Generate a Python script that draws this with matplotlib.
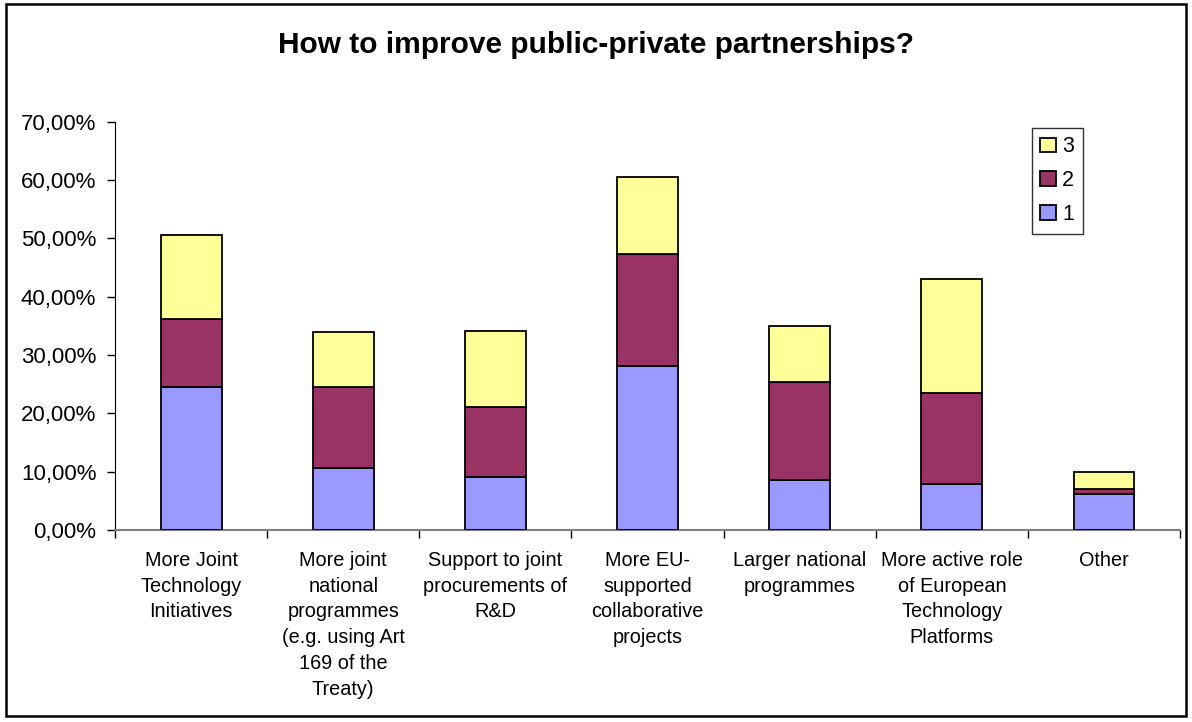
import matplotlib
matplotlib.use("Agg")
import matplotlib.pyplot as plt
from matplotlib.patches import Rectangle, Patch
from matplotlib.ticker import FuncFormatter, MultipleLocator
import numpy as np

plt.rcParams['font.family'] = ['Liberation Sans', 'DejaVu Sans']

# answer categories (x axis)
categories = [
    "More Joint\nTechnology\nInitiatives",
    "More joint\nnational\nprogrammes\n(e.g. using Art\n169 of the\nTreaty)",
    "Support to joint\nprocurements of\nR&D",
    "More EU-\nsupported\ncollaborative\nprojects",
    "Larger national\nprogrammes",
    "More active role\nof European\nTechnology\nPlatforms",
    "Other",
]

# share of respondents (%) per priority rank
rank1 = [24.5, 10.6, 9.1, 28.1, 8.6, 7.8, 6.2]
rank2 = [11.7, 13.9, 12.0, 19.3, 16.7, 15.6, 0.8]
rank3 = [14.3, 9.4, 13.1, 13.1, 9.6, 19.6, 3.0]

series_names = ["1", "2", "3"]
colors = ["#9999FF", "#993366", "#FFFF99"]

fig = plt.figure(figsize=(11.92, 7.22), dpi=100)
ax = fig.add_axes([0.0965, 0.266, 0.8935, 0.5654])

x = np.arange(len(categories))
bottom = np.zeros(len(categories))
for vals, col in zip([rank1, rank2, rank3], colors):
    ax.bar(x, vals, width=0.4, bottom=bottom, color=col,
           edgecolor="black", linewidth=1.3, zorder=3)
    bottom += np.array(vals)

ax.set_xlim(-0.5, len(categories) - 0.5)
ax.set_ylim(0, 70)
ax.yaxis.set_major_locator(MultipleLocator(10))
ax.yaxis.set_major_formatter(FuncFormatter(lambda v, p: f"{v:.2f}".replace(".", ",") + "%"))

ax.set_xticks(x)
ax.set_xticklabels(categories, fontsize=14.3, linespacing=1.45, va="top")
ax.set_xticks(np.arange(-0.5, len(categories)), minor=True)
ax.tick_params(axis="x", which="major", length=0, pad=15)
ax.tick_params(axis="x", which="minor", length=6, width=1, direction="out", color="black")
ax.tick_params(axis="y", labelsize=16, length=6, width=1, direction="out", pad=7.5)

for s in ["top", "right"]:
    ax.spines[s].set_visible(False)
ax.spines["left"].set_color("black")
ax.spines["bottom"].set_color("#808080")
ax.spines["bottom"].set_linewidth(1.5)

fig.text(0.5, 0.937, "How to improve public-private partnerships?",
         ha="center", va="center", fontsize=21.5, fontweight="bold")

handles = [Patch(facecolor=c, edgecolor="black", linewidth=1.3, label=n)
           for c, n in zip(colors, series_names)]
leg = ax.legend(handles[::-1], series_names[::-1], loc="upper left",
                bbox_to_anchor=(0.8605, 0.985), fontsize=15.5, frameon=True,
                fancybox=False, edgecolor="black", handlelength=0.72,
                handleheight=0.68, handletextpad=0.3, labelspacing=0.6,
                borderpad=0.4, borderaxespad=0)
leg.get_frame().set_linewidth(1.0)

# outer chart border
fig.patches.append(Rectangle((0.005, 0.008), 0.99, 0.986, transform=fig.transFigure,
                             fill=False, edgecolor="black", linewidth=1.8))

fig.savefig("out.png", dpi=100)
